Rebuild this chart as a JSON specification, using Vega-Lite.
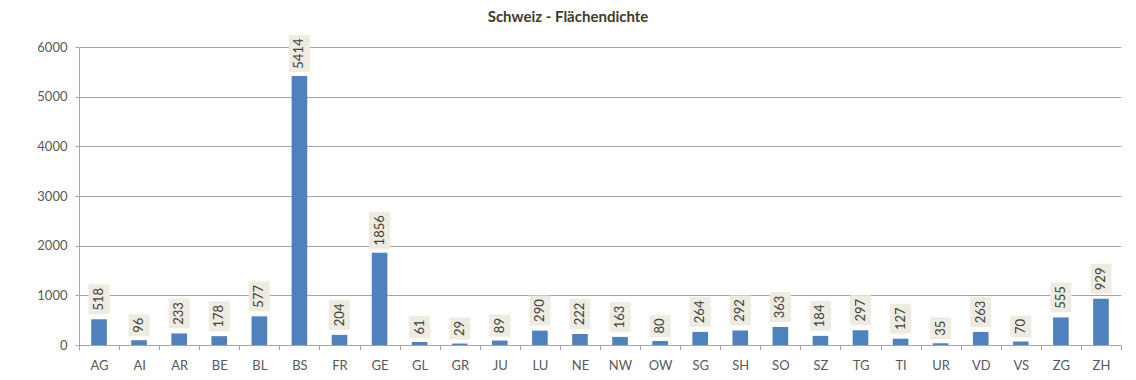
{
  "$schema": "https://vega.github.io/schema/vega-lite/v6.json",
  "width": 1042,
  "height": 298,
  "autosize": "none",
  "padding": {"left": 79, "top": 47, "right": 15, "bottom": 35},
  "background": "white",
  "title": {
    "text": "Schweiz - Flächendichte",
    "font": "Lato",
    "fontSize": 15,
    "fontWeight": "bold",
    "color": "#403c2b",
    "anchor": "middle",
    "dx": -32,
    "offset": 10
  },
  "config": {
    "view": {"stroke": null},
    "font": "Lato"
  },
  "data": {
    "values": [
      {"kanton": "AG", "dichte": 518},
      {"kanton": "AI", "dichte": 96},
      {"kanton": "AR", "dichte": 233},
      {"kanton": "BE", "dichte": 178},
      {"kanton": "BL", "dichte": 577},
      {"kanton": "BS", "dichte": 5414},
      {"kanton": "FR", "dichte": 204},
      {"kanton": "GE", "dichte": 1856},
      {"kanton": "GL", "dichte": 61},
      {"kanton": "GR", "dichte": 29},
      {"kanton": "JU", "dichte": 89},
      {"kanton": "LU", "dichte": 290},
      {"kanton": "NE", "dichte": 222},
      {"kanton": "NW", "dichte": 163},
      {"kanton": "OW", "dichte": 80},
      {"kanton": "SG", "dichte": 264},
      {"kanton": "SH", "dichte": 292},
      {"kanton": "SO", "dichte": 363},
      {"kanton": "SZ", "dichte": 184},
      {"kanton": "TG", "dichte": 297},
      {"kanton": "TI", "dichte": 127},
      {"kanton": "UR", "dichte": 35},
      {"kanton": "VD", "dichte": 263},
      {"kanton": "VS", "dichte": 70},
      {"kanton": "ZG", "dichte": 555},
      {"kanton": "ZH", "dichte": 929}
    ]
  },
  "encoding": {
    "x": {
      "field": "kanton",
      "type": "nominal",
      "sort": null,
      "scale": {"paddingInner": 0, "paddingOuter": 0},
      "axis": {
        "title": null,
        "labelAngle": 0,
        "labelFont": "Lato",
        "labelFontSize": 13,
        "labelColor": "#595959",
        "labelPadding": 9,
        "tickBand": "extent",
        "ticks": true,
        "tickSize": 5,
        "tickColor": "#a6a6a6",
        "domainColor": "#a6a6a6",
        "grid": false
      }
    },
    "y": {
      "field": "dichte",
      "type": "quantitative",
      "scale": {"domain": [0, 6000], "nice": false},
      "axis": {
        "title": null,
        "values": [0, 1000, 2000, 3000, 4000, 5000, 6000],
        "format": "d",
        "labelFont": "Lato",
        "labelFontSize": 13,
        "labelColor": "#595959",
        "labelPadding": 8,
        "tickSize": 4,
        "tickColor": "#a6a6a6",
        "domainColor": "#a6a6a6",
        "gridColor": "#a6a6a6",
        "grid": true
      }
    }
  },
  "layer": [
    {
      "mark": {"type": "bar", "color": "#4f81bd", "width": {"band": 0.39}}
    },
    {
      "transform": [{"filter": "datum.dichte < 100"}],
      "layer": [
        {
          "mark": {"type": "rect", "color": "#eeece1", "width": {"band": 0.525}, "yOffset": -4, "y2Offset": -26},
          "encoding": {"y2": {"field": "dichte"}}
        },
        {
          "mark": {"type": "text", "angle": 270, "align": "center", "baseline": "middle", "dx": 15, "fontSize": 13, "color": "#404040", "font": "Lato"},
          "encoding": {"text": {"field": "dichte", "type": "quantitative"}}
        }
      ]
    },
    {
      "transform": [{"filter": "datum.dichte >= 100 && datum.dichte < 1000"}],
      "layer": [
        {
          "mark": {"type": "rect", "color": "#eeece1", "width": {"band": 0.525}, "yOffset": -5, "y2Offset": -35},
          "encoding": {"y2": {"field": "dichte"}}
        },
        {
          "mark": {"type": "text", "angle": 270, "align": "center", "baseline": "middle", "dx": 20, "fontSize": 13, "color": "#404040", "font": "Lato"},
          "encoding": {"text": {"field": "dichte", "type": "quantitative"}}
        }
      ]
    },
    {
      "transform": [{"filter": "datum.dichte >= 1000"}],
      "layer": [
        {
          "mark": {"type": "rect", "color": "#eeece1", "width": {"band": 0.525}, "yOffset": -4, "y2Offset": -41},
          "encoding": {"y2": {"field": "dichte"}}
        },
        {
          "mark": {"type": "text", "angle": 270, "align": "center", "baseline": "middle", "dx": 22.5, "fontSize": 13, "color": "#404040", "font": "Lato"},
          "encoding": {"text": {"field": "dichte", "type": "quantitative", "format": "d"}}
        }
      ]
    }
  ]
}
